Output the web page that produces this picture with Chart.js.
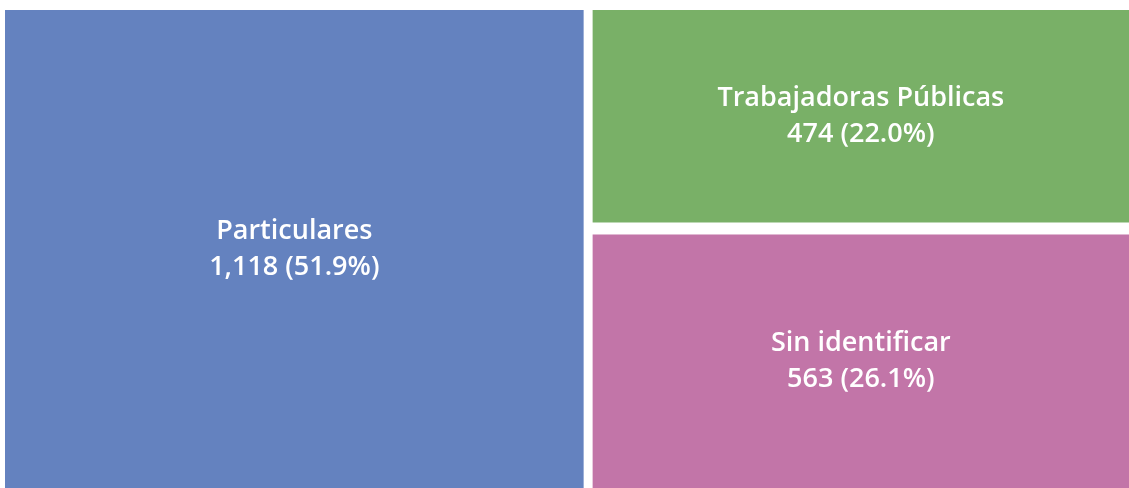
<!DOCTYPE html>
<html>
<head>
<meta charset="utf-8">
<script src="https://cdn.jsdelivr.net/npm/chart.js@4"></script>
<style>
  html, body { margin: 0; padding: 0; background: #ffffff; }
  canvas { display: block; }
</style>
</head>
<body>
<canvas id="treemap" width="1129" height="488"></canvas>
<script>
const categories = ["Particulares", "Trabajadoras Públicas", "Sin identificar"];
const counts = [1118, 474, 563];
const shares = [51.9, 22.0, 26.1];
const cellColors = ["#6482BF", "#79B067", "#C275A8"];

const total = counts.reduce((a, b) => a + b, 0);
const rightSum = counts[1] + counts[2];

// first cell fills a full-height column, the rest stack in the second column
function layoutCells() {
    const cells = [{ x0: 0, x1: counts[0], y0: 0, y1: rightSum }];
    let y = 0;
    for (let i = 1; i < counts.length; i++) {
        cells.push({ x0: counts[0], x1: total, y0: y, y1: y + counts[i] });
        y += counts[i];
    }
    return cells;
}

const treemapPlugin = {
    id: "treemapCells",
    beforeDatasetsDraw(chart) {
        const { ctx, scales } = chart;
        const gapX = 9, gapY = 12;
        const cells = layoutCells();
        cells.forEach((c, i) => {
            let left = scales.x.getPixelForValue(c.x0);
            let right = scales.x.getPixelForValue(c.x1);
            let top = scales.y.getPixelForValue(c.y0);
            let bottom = scales.y.getPixelForValue(c.y1);
            if (c.x0 > 0) left += gapX / 2;
            if (c.x1 < total) right -= gapX / 2;
            if (c.y0 > 0) top += gapY / 2;
            if (c.y1 < rightSum) bottom -= gapY / 2;

            ctx.save();
            ctx.fillStyle = cellColors[i];
            ctx.fillRect(left, top, right - left, bottom - top);

            ctx.fillStyle = "#ffffff";
            ctx.font = "600 27px 'Open Sans', Lato, sans-serif";
            ctx.textAlign = "center";
            ctx.textBaseline = "middle";
            const cx = (left + right) / 2;
            const cy = (top + bottom) / 2;
            const valueText = counts[i].toLocaleString("en-US") + " (" + shares[i].toFixed(1) + "%)";
            ctx.fillText(categories[i], cx, cy - 18);
            ctx.fillText(valueText, cx, cy + 18);
            ctx.restore();
        });
    }
};

new Chart(document.getElementById("treemap"), {
    type: "scatter",
    data: { datasets: [] },
    options: {
        responsive: false,
        animation: false,
        layout: { padding: { left: 5, top: 10, right: 0, bottom: 0 } },
        scales: {
            x: { type: "linear", min: 0, max: total, display: false },
            y: { type: "linear", min: 0, max: rightSum, reverse: true, display: false }
        },
        plugins: {
            legend: { display: false },
            tooltip: { enabled: false }
        }
    },
    plugins: [treemapPlugin]
});
</script>
</body>
</html>
